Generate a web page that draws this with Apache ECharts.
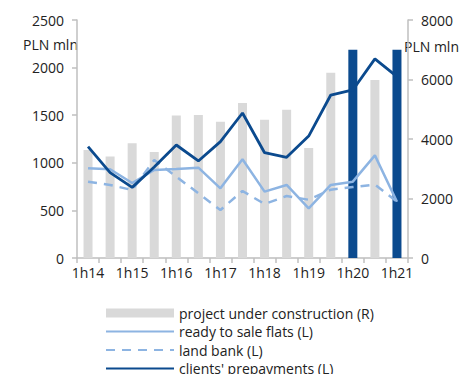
<!DOCTYPE html>
<html>
<head>
<meta charset="utf-8">
<script src="https://cdn.jsdelivr.net/npm/echarts@6/dist/echarts.min.js"></script>
<style>
  html, body { margin: 0; padding: 0; background: #fff; }
  #chart { width: 463px; height: 374px; }
</style>
</head>
<body>
<div id="chart"></div>
<script>
// half-year periods, only the 1h ones get a label
const periods = ['1h14', '2h14', '1h15', '2h15', '1h16', '2h16', '1h17', '2h17',
                 '1h18', '2h18', '1h19', '2h19', '1h20', '2h20', '1h21'];
// right axis (PLN mln)
const underConstruction = [3630, 3410, 3860, 3560, 4790, 4810, 4580, 5210,
                           4650, 4980, 3700, 6230, 7000, 5980, 7000];
// left axis (PLN mln)
const readyFlats = [942, 932, 788, 924, 935, 949, 732, 1037, 697, 767, 522, 767, 802, 1078, 591];
const landBank = [802, 767, 714, 1029, 854, 680, 504, 704, 567, 651, 612, 718, 745, 772, 591];
const prepayments = [1169, 896, 742, 956, 1187, 1019, 1222, 1523, 1106, 1058, 1281, 1712, 1765, 2092, 1905];
const highlighted = ['1h20', '1h21'];

const gray = '#d9d9d9';
const navy = '#0b4a8e';
const light = '#8db4e2';
const font = 'Open Sans';

const chart = echarts.init(document.getElementById('chart'), null, {renderer: 'svg'});

const axisStyle = {
    axisLine: {show: true, lineStyle: {color: '#bfbfbf', width: 1.5}},
    axisTick: {show: true, length: 5, lineStyle: {color: '#bfbfbf', width: 1.5}},
    splitLine: {show: false},
};
const plain = v => String(v);
const noSymbol = {opacity: 0};

chart.setOption({
    animation: false,
    textStyle: {fontFamily: font},
    grid: {left: 77, right: 55, top: 20, bottom: 116},
    legend: {
        orient: 'vertical',
        left: 100,
        top: 300,
        height: 120,
        itemWidth: 68,
        itemHeight: 9,
        itemGap: 2.5,
        textStyle: {fontFamily: font, fontSize: 14, lineHeight: 16, color: '#222'},
        data: [
            {name: 'project under construction (R)', icon: 'rect', itemStyle: {color: gray}},
            {name: 'ready to sale flats (L)', itemStyle: noSymbol},
            {name: 'land bank (L)', itemStyle: noSymbol},
            {name: "clients' prepayments (L)", itemStyle: noSymbol},
        ],
    },
    xAxis: {
        type: 'category',
        data: periods,
        ...axisStyle,
        axisTick: {show: true, length: 5, interval: 0, lineStyle: {color: '#bfbfbf', width: 1.5}},
        axisLabel: {interval: 1, fontSize: 14, color: '#222', margin: 7},
    },
    yAxis: [
        {
            type: 'value', min: 0, max: 2500, interval: 500, position: 'left',
            ...axisStyle,
            axisLabel: {fontSize: 14, color: '#222', margin: 13, formatter: plain},
        },
        {
            type: 'value', min: 0, max: 8000, interval: 2000, position: 'right',
            ...axisStyle,
            axisLabel: {fontSize: 14, color: '#222', margin: 13, formatter: plain},
        },
    ],
    graphic: [
        {type: 'text', left: 23, top: 37, style: {text: 'PLN mln', fontFamily: font, fontSize: 14, fill: '#222'}},
        {type: 'text', left: 404, top: 39, style: {text: 'PLN mln', fontFamily: font, fontSize: 14, fill: '#222'}},
    ],
    series: [
        {
            name: 'project under construction (R)',
            type: 'bar',
            yAxisIndex: 1,
            barWidth: 9,
            itemStyle: {color: gray},
            data: underConstruction.map((v, i) => ({
                value: v,
                itemStyle: {color: highlighted.includes(periods[i]) ? navy : gray},
            })),
            z: 1,
        },
        {
            name: 'ready to sale flats (L)',
            type: 'line',
            symbol: 'none',
            data: readyFlats,
            lineStyle: {color: light, width: 2.5},
            itemStyle: {color: light},
            z: 3,
        },
        {
            name: 'land bank (L)',
            type: 'line',
            symbol: 'none',
            data: landBank,
            lineStyle: {color: light, width: 2.5, type: [9, 7]},
            itemStyle: {color: light},
            z: 3,
        },
        {
            name: "clients' prepayments (L)",
            type: 'line',
            symbol: 'none',
            data: prepayments,
            lineStyle: {color: navy, width: 2.8},
            itemStyle: {color: navy},
            z: 4,
        },
    ],
});
</script>
</body>
</html>
